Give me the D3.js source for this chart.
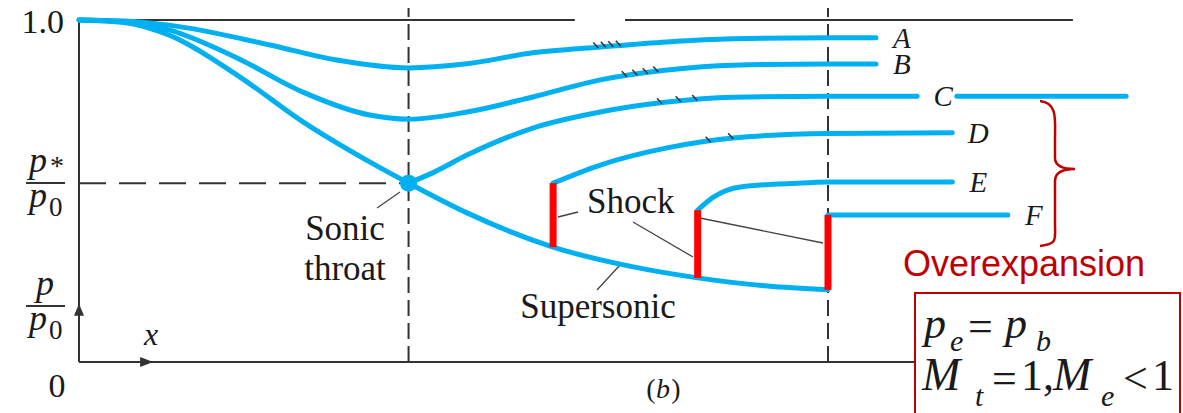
<!DOCTYPE html>
<html>
<head>
<meta charset="utf-8">
<script src="https://cdn.jsdelivr.net/npm/d3@7"></script>
<style>
body { margin: 0; background: #fff; }
svg { display: block; }
</style>
</head>
<body>
<script>
// x = position along the nozzle (inlet 0, exit 1), p = p/p0
const pStar = 0.523
const xThroat = 0.44
const xExit = 1.0

const curveA = [[0, 1], [0.06, 0.997], [0.12, 0.985], [0.255, 0.927], [0.344, 0.883], [0.44, 0.860], [0.518, 0.872], [0.606, 0.904], [0.696, 0.921], [0.785, 0.936], [0.873, 0.945], [1.0, 0.948], [1.064, 0.948]]
const curveB = [[0, 1], [0.06, 0.995], [0.12, 0.971], [0.211, 0.889], [0.299, 0.789], [0.388, 0.722], [0.44, 0.710], [0.518, 0.731], [0.606, 0.775], [0.696, 0.825], [0.785, 0.854], [0.873, 0.868], [1.0, 0.871], [1.064, 0.871]]
const subsonic = [[0, 1], [0.06, 0.993], [0.12, 0.956], [0.211, 0.839], [0.299, 0.702], [0.388, 0.585], [0.44, 0.523]]
const supersonic = [[0.44, 0.523], [0.518, 0.436], [0.633, 0.336], [0.74, 0.278], [0.826, 0.246], [0.919, 0.222], [1.0, 0.211]]
const curveC = [[0.44, 0.523], [0.472, 0.553], [0.518, 0.605], [0.606, 0.684], [0.696, 0.731], [0.785, 0.760], [0.873, 0.774], [1.0, 0.777], [1.119, 0.777]]
const curveCback = [[1.172, 0.777], [1.398, 0.777]]
const curveD = [[0.633, 0.523], [0.696, 0.576], [0.785, 0.626], [0.873, 0.655], [1.0, 0.668], [1.166, 0.670]]
const curveE = [[0.826, 0.444], [0.847, 0.482], [0.883, 0.512], [0.972, 0.524], [1.0, 0.526], [1.166, 0.526]]
const curveF = [[1.0, 0.430], [1.24, 0.430]]

// shock position, p before, p after
const shocks = [[0.633, 0.336, 0.523], [0.826, 0.246, 0.444], [1.0, 0.211, 0.430]]

const labels = ["A", "B", "C", "D", "E", "F"]
const labelCurves = [curveA, curveB, curveC, curveD, curveE, curveF]

// little break marks drawn across the curves
const breakMarks = [
  [curveA, [0.69, 0.70, 0.71, 0.72]],
  [curveB, [0.728, 0.742, 0.756, 0.77]],
  [curveC, [0.775, 0.80, 0.822]],
  [curveD, [0.84, 0.87]]
]

const width = 1183, height = 413
const blue = "#00b0f0", dark = "#333", red = "#c00000"
const serif = '"Liberation Serif"'
const sans = '"Liberation Sans"'

const svg = d3.select("body").append("svg")
  .attr("width", width)
  .attr("height", height)
  .style("font-family", serif)

const x = d3.scaleLinear().domain([0, 1]).range([79, 828])
const y = d3.scaleLinear().domain([0, 1]).range([362, 20])

const line = d3.line()
  .x(d => x(d[0]))
  .y(d => y(d[1]))
  .curve(d3.curveMonotoneX)

function valueAt(curve, xv) {
  for (let i = 1; i < curve.length; i++) {
    if (xv <= curve[i][0]) {
      const a = curve[i - 1], b = curve[i]
      return a[1] + (b[1] - a[1]) * (xv - a[0]) / (b[0] - a[0])
    }
  }
  return curve[curve.length - 1][1]
}

// frame lines
const frame = svg.append("g").attr("stroke", dark).attr("stroke-width", 2).attr("fill", "none")

frame.append("line")
  .attr("x1", x(0)).attr("x2", x(0))
  .attr("y1", y(0)).attr("y2", y(1))
frame.append("line")
  .attr("x1", x(0)).attr("x2", x(1.116))
  .attr("y1", y(0)).attr("y2", y(0))
frame.append("line")
  .attr("x1", x(0)).attr("x2", x(0.662))
  .attr("y1", y(1)).attr("y2", y(1))
frame.append("line")
  .attr("x1", x(0.729)).attr("x2", x(1.327))
  .attr("y1", y(1)).attr("y2", y(1))

frame.append("line")
  .attr("x1", x(0)).attr("x2", x(xThroat))
  .attr("y1", y(pStar)).attr("y2", y(pStar))
  .attr("stroke-dasharray", "27,13")

frame.selectAll(".station")
  .data([xThroat, xExit])
  .enter()
  .append("line")
    .attr("class", "station")
    .attr("x1", d => x(d)).attr("x2", d => x(d))
    .attr("y1", y(0)).attr("y2", y(1.035))
    .attr("stroke-dasharray", "16,7")

// axis arrows
svg.append("path")
  .attr("d", `M${x(0)},${y(0.17)} l-5,12 l10,0 z`)
  .attr("fill", dark)
svg.append("path")
  .attr("d", `M${x(0.099)},${y(0)} l-13,-5 l0,10 z`)
  .attr("fill", dark)

// leader lines
const leaders = [
  [377, 208, 400, 192],
  [558, 217, 578, 212],
  [633, 222, 693, 257],
  [695, 217, 823, 243],
  [597, 290, 620, 265]
]
svg.selectAll(".leader")
  .data(leaders)
  .enter()
  .append("line")
    .attr("class", "leader")
    .attr("x1", d => d[0]).attr("y1", d => d[1])
    .attr("x2", d => d[2]).attr("y2", d => d[3])
    .attr("stroke", "#444")
    .attr("stroke-width", 1.3)

// pressure curves
svg.selectAll(".curve")
  .data([curveA, curveB, subsonic.concat(supersonic.slice(1)), curveC, curveCback, curveD, curveE, curveF])
  .enter()
  .append("path")
    .attr("class", "curve")
    .attr("d", line)
    .attr("fill", "none")
    .attr("stroke", blue)
    .attr("stroke-width", 5)
    .attr("stroke-linecap", "round")

// break marks
breakMarks.forEach(function(bm) {
  svg.selectAll(null)
    .data(bm[1])
    .enter()
    .append("line")
      .attr("x1", d => x(d) - 2.5)
      .attr("y1", d => y(valueAt(bm[0], d)) - 5)
      .attr("x2", d => x(d) + 2.5)
      .attr("y2", d => y(valueAt(bm[0], d)) + 0.5)
      .attr("stroke", dark)
      .attr("stroke-width", 1.5)
})

svg.append("circle")
  .attr("cx", x(xThroat))
  .attr("cy", y(pStar))
  .attr("r", 8.5)
  .attr("fill", blue)

// shocks
svg.selectAll(".shock")
  .data(shocks)
  .enter()
  .append("line")
    .attr("class", "shock")
    .attr("x1", d => x(d[0])).attr("x2", d => x(d[0]))
    .attr("y1", d => y(d[1])).attr("y2", d => y(d[2]))
    .attr("stroke", "#ff0000")
    .attr("stroke-width", 7)

// overexpansion bracket and box
svg.append("path")
  .attr("d", "M1040,101 C1058,103 1055,120 1055,140 L1055,158 C1055,166 1062,169 1075,169 C1062,169 1055,173 1055,181 L1055,222 C1055,240 1058,244 1040,246")
  .attr("fill", "none")
  .attr("stroke", red)
  .attr("stroke-width", 2.5)

svg.append("rect")
  .attr("x", 915).attr("y", 293)
  .attr("width", 265).attr("height", 130)
  .attr("fill", "#fff")
  .attr("stroke", red)
  .attr("stroke-width", 2)

svg.selectAll(".fbar")
  .data([183, 306])
  .enter()
  .append("line")
    .attr("x1", 26).attr("x2", 65)
    .attr("y1", d => d).attr("y2", d => d)
    .attr("stroke", dark).attr("stroke-width", 2)

// texts: text, x, baseline, size, italic, anchor
const texts = [
  ["1.0", 64, 33, 34, false, "end"],
  ["p", 38, 172, 36, true, "middle"],
  ["*", 57, 175, 28, false, "middle"],
  ["p", 38, 207, 36, true, "middle"],
  ["0", 49, 216, 27, false, "start"],
  ["p", 45, 295, 36, true, "middle"],
  ["p", 38, 330, 36, true, "middle"],
  ["0", 49, 339, 27, false, "start"],
  ["0", 57, 397, 34, false, "middle"],
  ["x", 151, 345, 32, true, "middle"],
  ["Sonic", 345, 240, 35, false, "middle"],
  ["throat", 345, 280, 35, false, "middle"],
  ["Shock", 587, 213, 35, false, "start"],
  ["Supersonic", 598, 318, 35, false, "middle"],
  ["(", 651, 398, 28, false, "middle"],
  ["b", 663, 398, 28, true, "middle"],
  [")", 676, 398, 28, false, "middle"],
  ["p", 924, 338, 44, true, "start"], ["e", 950, 351, 30, true, "start"], ["=", 968, 341, 44, false, "start"],
  ["p", 1005, 338, 44, true, "start"], ["b", 1036, 351, 30, true, "start"],
  ["M", 922, 390, 46, true, "start"], ["t", 975, 406, 30, true, "start"], ["=", 992, 393, 44, false, "start"],
  ["1,", 1021, 390, 44, false, "start"], ["M", 1053, 390, 46, true, "start"], ["e", 1101, 406, 30, true, "start"],
  ["<", 1123, 393, 44, false, "start"], ["1", 1152, 390, 44, false, "start"]
]

svg.selectAll(".lbl")
  .data(labels)
  .enter()
  .append("text")
    .attr("class", "lbl")
    .attr("x", (d, i) => x(labelCurves[i][labelCurves[i].length - 1][0]) + 26)
    .attr("y", (d, i) => y(labelCurves[i][labelCurves[i].length - 1][1]) + 10)
    .attr("text-anchor", "middle")
    .attr("font-size", 29)
    .style("font-family", serif)
    .style("font-style", "italic")
    .style("fill", "#1a1a1a")
    .text(d => d)

svg.selectAll(".txt")
  .data(texts)
  .enter()
  .append("text")
    .attr("class", "txt")
    .attr("x", d => d[1])
    .attr("y", d => d[2])
    .attr("font-size", d => d[3])
    .attr("text-anchor", d => d[5])
    .style("font-family", serif)
    .style("font-style", d => d[4] ? "italic" : "normal")
    .style("fill", "#1a1a1a")
    .text(d => d[0])

svg.append("text")
  .attr("x", 903).attr("y", 276)
  .attr("font-size", 36)
  .style("font-family", sans)
  .style("fill", red)
  .text("Overexpansion")
</script>
</body>
</html>
